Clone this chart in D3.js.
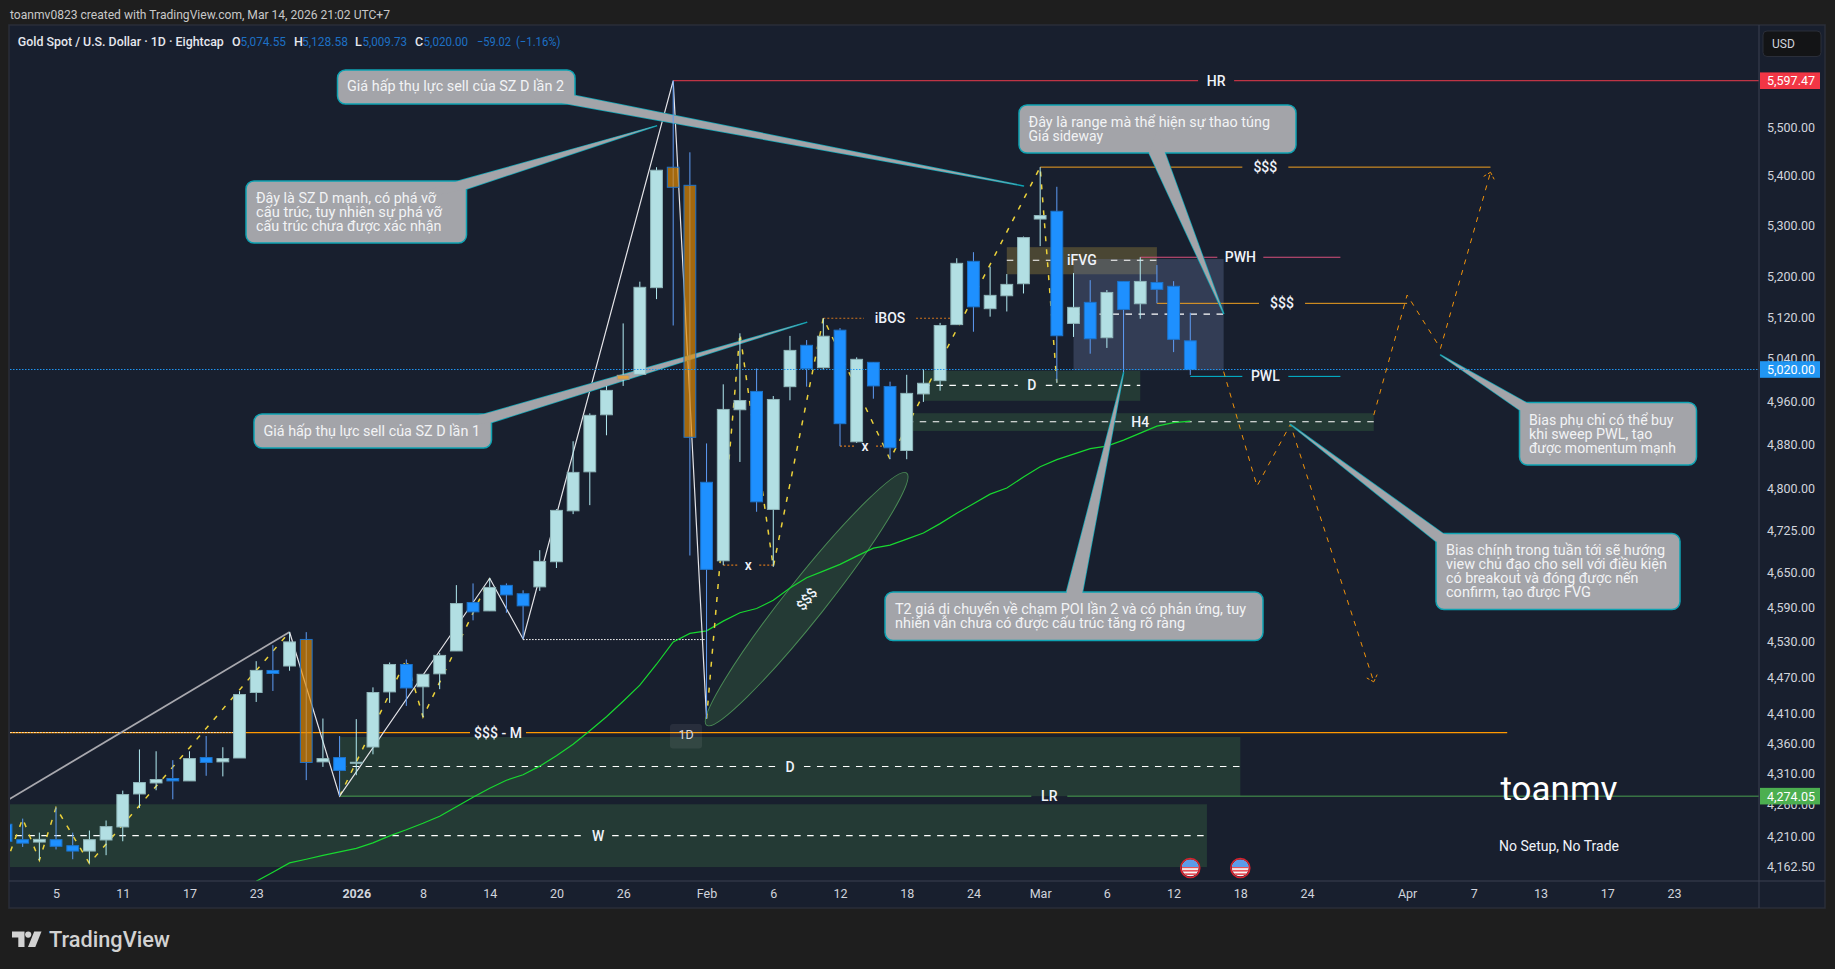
<!DOCTYPE html>
<html lang="vi">
<head>
<meta charset="utf-8">
<title>Gold Spot / U.S. Dollar · 1D</title>
<script src="https://cdnjs.cloudflare.com/ajax/libs/d3/7.8.5/d3.min.js"></script>
<style>
  html, body { margin: 0; padding: 0; background: #1e1e1e; overflow: hidden; }
  svg { display: block; font-family: Roboto, "Noto Sans", sans-serif; }
</style>
</head>
<body>
<svg id="chart" width="1835" height="969"></svg>
<script>
// Daily sessions, the first one sits off-pane so long zones can start left of the view
const sessions = ["Nov 28",
  "Dec 2","Dec 3","Dec 4","Dec 5","Dec 8","Dec 9","Dec 10","Dec 11","Dec 12","Dec 15","Dec 16","Dec 17","Dec 18","Dec 19","Dec 22","Dec 23","Dec 24","Dec 26","Dec 29","Dec 30","Dec 31",
  "Jan 2","Jan 5","Jan 6","Jan 7","Jan 8","Jan 9","Jan 12","Jan 13","Jan 14","Jan 15","Jan 16","Jan 19","Jan 20","Jan 21","Jan 22","Jan 23","Jan 26","Jan 27","Jan 28","Jan 29","Jan 30",
  "Feb 2","Feb 3","Feb 4","Feb 5","Feb 6","Feb 9","Feb 10","Feb 11","Feb 12","Feb 13","Feb 16","Feb 17","Feb 18","Feb 19","Feb 20","Feb 23","Feb 24","Feb 25","Feb 26","Feb 27",
  "Mar 2","Mar 3","Mar 4","Mar 5","Mar 6","Mar 9","Mar 10","Mar 11","Mar 12","Mar 13",
  "Mar 16","Mar 17","Mar 18","Mar 19","Mar 20","Mar 23","Mar 24","Mar 25","Mar 26","Mar 27","Mar 30","Mar 31",
  "Apr 1","Apr 2","Apr 3","Apr 6","Apr 7","Apr 8","Apr 9","Apr 10","Apr 13","Apr 14","Apr 15","Apr 16","Apr 17","Apr 20","Apr 21","Apr 22","Apr 23"];
const candleSessions = sessions.slice(1, 73);

const opens = [4229,4204.5,4200.7,4204.5,4195,4186.5,4204,4224.7,4277.6,4295.4,4302.6,4298.7,4336.7,4329.7,4336,4444.4,4481.5,4489,4534.2,4329.7,4336.7,
  4327.5,4354,4445.4,4491.6,4454,4475.8,4514.6,4597.7,4583.3,4627.6,4613,4625,4669,4759.5,4830,4935,5001.5,5010.8,5177.3,5417.8,5381,
  4811,4670.7,4944.4,4978.7,4762,4987.6,5066,5023.4,5095,4885,5033.6,4988,4869,4974,4999,5105.7,5229,5136.4,5161.5,5185,
  5313,5328.6,5108,5148.7,5080.5,5189.5,5146,5187.5,5180,5074.55];
const highs = [4248,4238,4215.7,4255.7,4215.7,4219,4235,4283,4350,4347,4332.4,4347,4372,4353.6,4446.5,4497.2,4524.4,4547,4546.7,4401,4372,
  4400,4453,4495,4500,4475,4511,4628,4631,4640,4631,4619,4689.4,4762.6,4886,4937.7,4988.8,5108,5189,5417.8,5597.47,5448.4,
  4882,4992,5089,5022,4970,5084,5076,5118,5099,5043,5034,4997,5010,5020.5,5109,5235,5247,5218.6,5203.9,5278,
  5418,5378,5206,5192,5172.7,5190,5237,5221.6,5190,5128.58];
const lows = [4194,4193,4172,4189,4173.6,4167,4180,4202,4255,4283.6,4269,4298.7,4307,4306,4336,4428.6,4447,4481,4300,4321.5,4274.05,
  4308,4342,4427,4422,4403.7,4450,4514.6,4567,4583,4580,4535,4618,4658,4753.6,4769.7,4897,4989,5010.8,5155,5104,4680,
  4401,4663,4848,4757.8,4660,4962,4987.6,5019,4877,4883,4965,4853,4853,4959,4980,5105,5092,5121,5131,5166,
  5259,4995,5082,5050,5061,5015,5117,5146.8,5053,5009.73];
const closes = [4202,4199,4205,4194,4186.5,4204.5,4225.3,4276.6,4296,4301,4298.7,4335,4328.7,4335,4441,4481.6,4476.4,4530,4328.7,4335,4315.7,
  4329,4444.4,4491.6,4452,4475,4507,4596,4581.6,4624,4611,4592,4669.6,4760.3,4829,4934,4980.6,5009,5178,5411.7,5377,4893.3,
  4655.6,4945,4961.7,4775.7,4963.6,5056.3,5021.5,5083.4,4918.5,5039.3,4989,4874,4975,4994,5104,5225,5140,5162.3,5183.7,5276,
  5320,5084.3,5139,5078.5,5168,5135,5189.5,5174,5077.4,5020];

// Candles repainted by the author as supply-zone markers
const supplyCandles = ["Dec 29", "Jan 29", "Jan 30"];
const markedCandles = ["Jan 26"];

// Moving average, first value belongs to Dec 23
const maSessions = sessions.slice(16, 73);
const maValues = [4139,4153.3,4167.8,4173.6,4179.8,4185.3,
  4190.8,4199.4,4210.6,4220.2,4230.6,4241.8,4257,4272.3,4286.8,4299.8,4308.7,4322.7,4339.7,4358.4,4380.8,4404,4429.7,4456.7,4492,4530,4544.5,
  4549,4565.6,4580,4587.4,4601.7,4623,4641,4652.6,4664.4,4678.9,4693,4698.3,4709,4719.8,4736.6,4755,4772.4,4789.6,4800.6,4820.6,
  4839.2,4852.3,4862.3,4872.4,4877,4888,4901,4914,4920.5,4923.3];

const priceTicks = [5500,5400,5300,5200,5120,5040,4960,4880,4800,4725,4650,4590,4530,4470,4410,4360,4310,4260,4210,4162.5];
const tickSessions = ["Dec 5","Dec 11","Dec 17","Dec 23","Jan 2","Jan 8","Jan 14","Jan 20","Jan 26","Feb 2","Feb 6","Feb 12","Feb 18","Feb 24","Mar 2","Mar 6","Mar 12","Mar 18","Mar 24","Apr 1","Apr 7","Apr 13","Apr 17","Apr 23"];
const tickLabels = ["5","11","17","23","2026","8","14","20","26","Feb","6","12","18","24","Mar","6","12","18","24","Apr","7","13","17","23"];

const lastPrice = 5020, rangeHigh = 5597.47, rangeLow = 4274.05;

// Zones: [label, first session, last session, top, bottom, midline]
const demandZones = [
  ["D",  "Dec 31", "Mar 18", 4370.5, rangeLow, 4322],
  ["W",  "Nov 28", "Mar 16", 4261, 4161.3, 4211],
  ["D",  "Feb 19", "Mar 10", 5017.7, 4961, 4990],
  ["H4", "Feb 18", "Mar 30", 4938, 4905, 4922]
];
const fvgZone = ["iFVG", "Feb 26", "Mar 11", 5257, 5203.5, 5231];
const rangeBox = ["Mar 4", "Mar 17", 5233.5, 5018.5, 5126];

// Labelled horizontal levels: [label, first session, last session, price]
const solidLevels = [
  ["HR",  "Jan 29", null,     rangeHigh, "#ea3a4c"],
  ["LR",  "Dec 31", null,     rangeLow,  "#4a9e50"],
  ["$$$", "Mar 2",  "Apr 8",  5418,      "#f0a020"],
  ["$$$", "Mar 11", "Apr 1",  5146.8,    "#f0a020"],
  ["PWH", "Mar 10", "Mar 26", 5237,      "#d8507c"],
  ["PWL", "Mar 13", "Mar 26", 5007,      "#00bcd4"]
];
const monthlyLevel = 4377.8;
const dottedLevels = [
  ["iBOS", "Feb 11", "Feb 23", 5118],
  ["x",    "Feb 12", "Feb 17", 4877],
  ["x",    "Feb 3",  "Feb 6",  4663]
];
const swingFloor = ["Jan 16", "Feb 2", 4534];

// Swing paths: [session, price]
const yellowA = [["Dec 2",4167],["Dec 3",4238],["Dec 4",4172],["Dec 5",4255.7],["Dec 9",4167],["Dec 26",4547]];
const yellowB = [["Dec 31",4274.05],["Jan 7",4500],["Jan 8",4403.7],["Jan 14",4640]];
const yellowC = [["Feb 2",4401],["Feb 4",5089],["Feb 6",4660],["Feb 11",5118],["Feb 17",4853],["Mar 2",5418],["Mar 3",4995]];
const whiteLead = [["Dec 2",4266],["Dec 26",4547]];
const whiteSwing = [["Dec 26",4547],["Dec 31",4274.05],["Jan 14",4640],["Jan 16",4535],["Jan 29",5597.47],["Feb 2",4401]];
const sellScenario = [["Mar 17",5016],["Mar 19",4804],["Mar 23",4917],["Mar 30",4462.3]];
const buyScenario = [["Mar 30",4934.5],["Apr 1",5162.9],["Apr 3",5060],["Apr 8",5407.6]];
const liquidityEllipse = [["Feb 2",4390],["Feb 18",4827.7]];

const calloutTexts = [
  ["Giá hấp thụ lực sell của SZ D lần 2"],
  ["Đây là SZ D mạnh, có phá vỡ","cấu trúc, tuy nhiên sự phá vỡ","cấu trúc chưa được xác nhận"],
  ["Giá hấp thụ lực sell của SZ D lần 1"],
  ["Đây là range mà thể hiện sự thao túng","Giá sideway"],
  ["T2 giá di chuyển về chạm POI lần 2 và có phản ứng, tuy","nhiên vẫn chưa có được cấu trúc tăng rõ ràng"],
  ["Bias phụ chỉ có thể buy","khi sweep PWL, tạo","được momentum mạnh"],
  ["Bias chính trong tuần tới sẽ hướng","view chủ đạo cho sell với điều kiện","có breakout và đóng được nến","confirm, tạo được FVG"]
];
const calloutTips = [["Feb 27",5379.8],["Jan 28",5503],["Feb 10",5110],["Mar 17",5127],["Mar 9",5014],["Apr 3",5047.5],["Mar 23",4917]];
const newsSessions = ["Mar 13", "Mar 18"];

// ---- layout ----
const pane = { left: 10, top: 26, right: 1759, bottom: 881 };
const chartBox = { left: 9, top: 25, right: 1825, bottom: 908 };
const calloutBoxes = [
  { x: 337.5, y: 70,  w: 237.5, h: 34,  tx: 347,  ty: 86,    base: [[568,104],[575,95.5]],       widths: [217] },
  { x: 246,   y: 181, w: 220.5, h: 62,  tx: 256,  ty: 197.5, base: [[458.5,181],[466.5,189]],    widths: [180,186,185.5] },
  { x: 254,   y: 414, w: 237.5, h: 34,  tx: 263.5,ty: 431,   base: [[484.5,414],[491.5,422.5]],  widths: [216.5] },
  { x: 1019,  y: 105, w: 277,   h: 48,  tx: 1028.5,ty: 121.5,base: [[1149,153],[1165,153]],      widths: [241.5,74.5] },
  { x: 885,   y: 592, w: 378,   h: 48.5,tx: 895,  ty: 608.5, base: [[1066.5,592],[1082.5,592]],  widths: [351,290] },
  { x: 1519.5,y: 402.5,w: 177,  h: 62.5,tx: 1529, ty: 419.5, base: [[1526,402.5],[1519.5,410]],  widths: [144.5,123.5,147] },
  { x: 1436,  y: 533.5,w: 244,  h: 76,  tx: 1446, ty: 550,   base: [[1443,533.5],[1436,541.5]],  widths: [219,221,192.5,145] }
];
const bg = "#181f2e", zoneFill = "#243a35", labelWhite = "#f0f3fa", axisText = "#d1d4dc";
const uiFont = 'Roboto, "Noto Sans", sans-serif';

const svg = d3.select("#chart");
const x = d3.scalePoint().domain(sessions).range([-10.68, 1674]);
const y = d3.scaleLog().domain([5500, 4162.5]).range([127.3, 866.3]);
const at = ([s, p]) => [x(s), y(p)];
const pathLine = d3.line();

// Chart frame and pane background
svg.append("rect").attr("width", 1835).attr("height", 969).attr("fill", "#1e1e1e");
svg.append("rect").attr("x", chartBox.left).attr("y", chartBox.top)
  .attr("width", chartBox.right - chartBox.left).attr("height", chartBox.bottom - chartBox.top)
  .attr("fill", bg).attr("stroke", "#2a2e39").attr("stroke-width", 1.5);

svg.append("clipPath").attr("id", "paneClip").append("rect")
  .attr("x", pane.left).attr("y", pane.top)
  .attr("width", pane.right - pane.left).attr("height", pane.bottom - pane.top);
const plot = svg.append("g").attr("clip-path", "url(#paneClip)");
const overlay = svg.append("g");

// Draws a horizontal stroke with a gap left open for its centred label
function levelLine(parent, x1, x2, yy, label, labelX, gap, attrs) {
  const segs = label ? [[x1, labelX - gap], [labelX + gap, x2]] : [[x1, x2]];
  segs.forEach(([a, b]) => {
    const l = parent.append("line").attr("x1", a).attr("x2", b).attr("y1", yy).attr("y2", yy);
    Object.entries(attrs).forEach(([k, v]) => l.attr(k, v));
  });
}
function levelLabel(text, lx, ly, size = 14) {
  overlay.append("text").attr("x", lx).attr("y", ly).attr("text-anchor", "middle")
    .attr("dominant-baseline", "central").attr("fill", labelWhite)
    .attr("font-size", size).attr("font-weight", 500).text(text);
}
const gapFor = t => Math.max(9, t.length * 5 + 9);

// Range box goes under the fair value gap and demand zones
const zoneLayer = plot.append("g");
zoneLayer.append("rect")
  .attr("x", x(fvgZone[1])).attr("width", x(fvgZone[2]) - x(fvgZone[1]))
  .attr("y", y(fvgZone[3])).attr("height", y(fvgZone[4]) - y(fvgZone[3]))
  .attr("fill", "#4a4633");
zoneLayer.append("rect")
  .attr("x", x(rangeBox[0])).attr("width", x(rangeBox[1]) - x(rangeBox[0]))
  .attr("y", y(rangeBox[2])).attr("height", y(rangeBox[3]) - y(rangeBox[2]))
  .attr("fill", "rgb(106,125,167)").attr("fill-opacity", 0.33);
zoneLayer.selectAll("rect.zone").data(demandZones).join("rect").attr("class", "zone")
  .attr("x", d => x(d[1])).attr("width", d => x(d[2]) - x(d[1]))
  .attr("y", d => y(d[3])).attr("height", d => y(d[4]) - y(d[3]))
  .attr("fill", zoneFill);

const dashStyle = { stroke: "#ffffff", "stroke-width": 1.1, "stroke-dasharray": "6.5 6.5" };
demandZones.concat([fvgZone]).forEach(z => {
  const a = x(z[1]), b = x(z[2]), mid = (a + b) / 2;
  levelLine(plot, a, b, y(z[5]), z[0], mid, gapFor(z[0]), dashStyle);
  levelLabel(z[0], mid, y(z[5]));
});
levelLine(plot, x(rangeBox[0]), x(rangeBox[1]), y(rangeBox[4]), null, 0, 0, dashStyle);

// Liquidity ellipse between two anchors
{
  const [a, b] = liquidityEllipse.map(at);
  const cx = (a[0] + b[0]) / 2, cy = (a[1] + b[1]) / 2;
  const angle = Math.atan2(b[1] - a[1], b[0] - a[0]) * 180 / Math.PI;
  const rx = Math.hypot(b[0] - a[0], b[1] - a[1]) / 2;
  plot.append("ellipse").attr("cx", 0).attr("cy", 0).attr("rx", rx).attr("ry", 20)
    .attr("transform", `translate(${cx},${cy}) rotate(${angle})`)
    .attr("fill", zoneFill).attr("stroke", "#4a8a55").attr("stroke-width", 1);
  overlay.append("text").attr("transform", `translate(${cx},${cy}) rotate(${angle})`)
    .attr("text-anchor", "middle").attr("dominant-baseline", "central")
    .attr("fill", labelWhite).attr("font-size", 14).attr("font-weight", 500).text("$$$");
}

// Monthly level with its dotted left run
const monthlyY = y(monthlyLevel);
levelLine(plot, x("Nov 28"), x("Apr 9"), monthlyY, "$$$ - M", 498, 28, { stroke: "#ff9800", "stroke-width": 1.2 });
levelLabel("$$$ - M", 498, monthlyY);
plot.append("line").attr("x1", x("Nov 28")).attr("x2", x("Dec 22")).attr("y1", monthlyY).attr("y2", monthlyY)
  .attr("stroke", "#ffffff").attr("stroke-width", 1).attr("stroke-dasharray", "1.2 1.8");

solidLevels.forEach(([label, s1, s2, price, color]) => {
  const a = x(s1), b = s2 ? x(s2) : pane.right, mid = (a + b) / 2, yy = y(price);
  levelLine(plot, a, b, yy, label, mid, gapFor(label) - 1, { stroke: color, "stroke-width": 1 });
  levelLabel(label, mid, yy);
});
dottedLevels.forEach(([label, s1, s2, price]) => {
  const a = x(s1), b = x(s2), mid = (a + b) / 2, yy = y(price);
  levelLine(plot, a, b, yy, label, mid, gapFor(label) - 3,
    { stroke: "#d0741c", "stroke-width": 1.1, "stroke-dasharray": "2 2" });
  levelLabel(label, mid, yy);
});
plot.append("line").attr("x1", x(swingFloor[0])).attr("x2", x(swingFloor[1]))
  .attr("y1", y(swingFloor[2])).attr("y2", y(swingFloor[2]))
  .attr("stroke", "#ffffff").attr("stroke-width", 1).attr("stroke-dasharray", "1.5 1.5");

// Moving average
plot.append("path").attr("fill", "none").attr("stroke", "#18d830").attr("stroke-width", 1.2)
  .attr("d", pathLine(maSessions.map((s, i) => [x(s), y(maValues[i])])));

// Swing paths behind the candles
[yellowA, yellowB, yellowC].forEach(seg => {
  plot.append("path").attr("fill", "none").attr("stroke", "#ecd23a").attr("stroke-width", 1.5)
    .attr("stroke-dasharray", "5 8").attr("d", pathLine(seg.map(at)));
});
plot.append("path").attr("fill", "none").attr("stroke", "#a8a8ae").attr("stroke-width", 1.8)
  .attr("d", pathLine(whiteLead.map(at)));
plot.append("path").attr("fill", "none").attr("stroke", "#e4e4e8").attr("stroke-width", 1.2)
  .attr("d", pathLine(whiteSwing.map(at)));

// Scenario paths with arrow heads at their ends
[sellScenario, buyScenario].forEach(seg => {
  const pts = seg.map(at);
  plot.append("path").attr("fill", "none").attr("stroke", "#f0920a").attr("stroke-width", 1)
    .attr("stroke-dasharray", "5 6").attr("d", pathLine(pts));
  const tip = pts[pts.length - 1], prev = pts[pts.length - 2];
  const dir = Math.atan2(tip[1] - prev[1], tip[0] - prev[0]);
  [-0.75, 0.75].forEach(off => {
    plot.append("line").attr("x1", tip[0]).attr("y1", tip[1])
      .attr("x2", tip[0] - 8 * Math.cos(dir + off)).attr("y2", tip[1] - 8 * Math.sin(dir + off))
      .attr("stroke", "#f0920a").attr("stroke-width", 1).attr("stroke-dasharray", "3 2");
  });
});

// Callouts: tail, box, then the tail fill again to open the box border at the joint
const calloutFill = "#a3a4a9", calloutStroke = "#0ea3b3";
calloutBoxes.forEach((box, i) => {
  const tip = at(calloutTips[i]);
  const g = plot.append("g");
  const tail = [box.base[0], tip, box.base[1]];
  g.append("polygon").attr("points", tail.join(" ")).attr("fill", calloutFill)
    .attr("stroke", calloutStroke).attr("stroke-width", 1.5).attr("stroke-linejoin", "round");
  g.append("rect").attr("x", box.x).attr("y", box.y).attr("width", box.w).attr("height", box.h)
    .attr("rx", 8).attr("fill", calloutFill).attr("stroke", calloutStroke).attr("stroke-width", 1.5);
  const inner = [box.base[0], tip, box.base[1], [box.x + box.w / 2, box.y + box.h / 2]];
  g.append("polygon").attr("points", inner.join(" ")).attr("fill", calloutFill);
  g.selectAll("text").data(calloutTexts[i]).join("text")
    .attr("x", box.tx).attr("y", (d, k) => box.ty + k * 14).attr("dominant-baseline", "central")
    .attr("fill", "#f2f3f5").attr("font-size", 14)
    .attr("textLength", (d, k) => box.widths[k]).attr("lengthAdjust", "spacingAndGlyphs")
    .text(d => d);
});

// Candles
const candle = plot.append("g").selectAll("g").data(candleSessions).join("g");
const tone = (s, i) => {
  if (supplyCandles.includes(s)) return { fill: "rgba(230,138,0,0.68)", line: "#1f72c9", wick: "#5e9cf5" };
  if (markedCandles.includes(s)) return { fill: "#e0a13f", line: "#9a9a90", wick: "#b2ebf2" };
  return closes[i] >= opens[i]
    ? { fill: "#b2dfe3", line: "#8fb6ba", wick: "#b2ebf2" }
    : { fill: "#1e90ff", line: "#1c74cc", wick: "#5e9cf5" };
};
candle.append("line")
  .attr("x1", d => x(d)).attr("x2", d => x(d))
  .attr("y1", (d, i) => y(highs[i])).attr("y2", (d, i) => y(lows[i]))
  .attr("stroke", (d, i) => tone(d, i).wick).attr("stroke-width", 1);
candle.append("rect")
  .attr("x", d => x(d) - 5.9).attr("width", 11.8)
  .attr("y", (d, i) => y(Math.max(opens[i], closes[i])))
  .attr("height", (d, i) => Math.max(1, Math.abs(y(opens[i]) - y(closes[i]))))
  .attr("fill", (d, i) => tone(d, i).fill)
  .attr("stroke", (d, i) => tone(d, i).line).attr("stroke-width", 1);

// Last price line sits above everything in the pane
plot.append("line").attr("x1", pane.left).attr("x2", pane.right)
  .attr("y1", y(lastPrice)).attr("y2", y(lastPrice))
  .attr("stroke", "#2196f3").attr("stroke-width", 1).attr("stroke-dasharray", "1.5 1.5");

// Resolution tag
overlay.append("rect").attr("x", 670).attr("y", 724).attr("width", 32).attr("height", 24.5).attr("rx", 3)
  .attr("fill", "#ffffff").attr("fill-opacity", 0.07);
overlay.append("text").attr("x", 686).attr("y", 734).attr("text-anchor", "middle").attr("dominant-baseline", "central")
  .attr("fill", "#d5d8de").attr("font-size", 12.5).text("1D");

// Economic event flags on the time axis
newsSessions.forEach((s, idx) => {
  const cx = x(s), cy = 868, r = 8.5;
  const g = overlay.append("g");
  g.append("clipPath").attr("id", "flagClip" + idx).append("circle").attr("cx", cx).attr("cy", cy).attr("r", r);
  const f = g.append("g").attr("clip-path", `url(#flagClip${idx})`);
  f.append("rect").attr("x", cx - r).attr("y", cy - r).attr("width", 2 * r).attr("height", 2 * r).attr("fill", "#f5f5f5");
  d3.range(0, 3).forEach(k => f.append("rect").attr("x", cx - r).attr("y", cy + 0.5 + k * 3.4 - 2)
    .attr("width", 2 * r).attr("height", 1.7).attr("fill", "#e8525a"));
  f.append("rect").attr("x", cx - r).attr("y", cy - r).attr("width", 2 * r).attr("height", r - 1).attr("fill", "#5b9bea");
  g.append("circle").attr("cx", cx).attr("cy", cy).attr("r", r + 1).attr("fill", "none")
    .attr("stroke", "#d8232f").attr("stroke-width", 1.6);
});

// Author watermark, its lower edge is cut off at the low line
svg.append("clipPath").attr("id", "markClip").append("rect").attr("x", 1400).attr("y", 760).attr("width", 320).attr("height", 40);
overlay.append("text").attr("x", 1559).attr("y", 800.5).attr("text-anchor", "middle")
  .attr("clip-path", "url(#markClip)").attr("fill", "#ffffff").attr("font-size", 35).text("toanmv");
overlay.append("text").attr("x", 1559).attr("y", 845.5).attr("text-anchor", "middle").attr("dominant-baseline", "central")
  .attr("fill", "#f0f3fa").attr("font-size", 14).text("No Setup, No Trade");

// Price axis
const priceAxis = svg.append("g").attr("transform", `translate(${pane.right},0)`)
  .call(d3.axisRight(y).tickValues(priceTicks).tickSize(0).tickPadding(0).tickFormat(d3.format(",.2f")));
priceAxis.select(".domain").remove();
priceAxis.selectAll("text").attr("x", 56).attr("text-anchor", "end")
  .attr("fill", axisText).attr("font-size", 12.5).attr("font-family", uiFont);
svg.append("line").attr("x1", pane.right).attr("x2", pane.right).attr("y1", chartBox.top).attr("y2", chartBox.bottom)
  .attr("stroke", "#3a4050").attr("stroke-width", 1);

// Time axis
const timeAxis = svg.append("g").attr("transform", `translate(0,${pane.bottom})`)
  .call(d3.axisBottom(x).tickValues(tickSessions).tickSize(0).tickPadding(8)
    .tickFormat(s => tickLabels[tickSessions.indexOf(s)]));
timeAxis.select(".domain").remove();
timeAxis.selectAll("text").attr("fill", axisText).attr("font-size", 12.5).attr("font-family", uiFont)
  .attr("font-weight", d => d === "Jan 2" ? 700 : 400);
svg.append("line").attr("x1", chartBox.left).attr("x2", chartBox.right).attr("y1", pane.bottom).attr("y2", pane.bottom)
  .attr("stroke", "#3a4050").attr("stroke-width", 1);

// Price tags on the axis
[[rangeHigh, "#f23645"], [rangeLow, "#4caf50"], [lastPrice, "#2196f3"]].forEach(([p, color]) => {
  svg.append("rect").attr("x", pane.right + 1).attr("y", y(p) - 8.3).attr("width", 60).attr("height", 16.6)
    .attr("fill", color);
  svg.append("text").attr("x", 1815).attr("y", y(p)).attr("text-anchor", "end").attr("dominant-baseline", "central")
    .attr("fill", "#ffffff").attr("font-size", 12.5).text(d3.format(",.2f")(p));
});

// Currency selector
svg.append("rect").attr("x", 1763).attr("y", 31).attr("width", 58).attr("height", 25.5).attr("rx", 4)
  .attr("fill", "#131416").attr("stroke", "#2a2e39");
svg.append("text").attr("x", 1772).attr("y", 44).attr("dominant-baseline", "central")
  .attr("fill", axisText).attr("font-size", 12).text("USD");

// Header and symbol legend
svg.append("text").attr("x", 10).attr("y", 14.7).attr("dominant-baseline", "central")
  .attr("fill", "#c8c8c8").attr("font-size", 13)
  .attr("textLength", 380).attr("lengthAdjust", "spacingAndGlyphs")
  .text("toanmv0823 created with TradingView.com, Mar 14, 2026 21:02 UTC+7");
const legendWhite = "#e6e8ee", legendBlue = "#1d70c4";
const legendRuns = [
  ["Gold Spot / U.S. Dollar · 1D · Eightcap", 17.8, legendWhite, 500, 206],
  ["O", 232, legendWhite, 500], ["5,074.55", 240.5, legendBlue, 400, 45.5],
  ["H", 294, legendWhite, 500], ["5,128.58", 302, legendBlue, 400, 46],
  ["L", 355, legendWhite, 500], ["5,009.73", 362.5, legendBlue, 400, 44.5],
  ["C", 415, legendWhite, 500], ["5,020.00", 423.6, legendBlue, 400, 44.5],
  ["−59.02", 477, legendBlue, 400, 34], ["(−1.16%)", 516, legendBlue, 400, 44.5]
];
legendRuns.forEach(d => {
  const t = svg.append("text").attr("x", d[1]).attr("y", 41.5).attr("dominant-baseline", "central")
    .attr("fill", d[2]).attr("font-size", 12.5).attr("font-weight", d[3]).text(d[0]);
  if (d[4]) t.attr("textLength", d[4]).attr("lengthAdjust", "spacingAndGlyphs");
});

// Wordmark in the footer
const logo = svg.append("g").attr("fill", "#d2d2d2");
logo.append("path").attr("d", "M12 931.5h12.5v15.5h-6.2v-9.4h-6.3z");
logo.append("circle").attr("cx", 28.2).attr("cy", 934.6).attr("r", 3.1);
logo.append("path").attr("d", "M34.2 931.5h7.3l-6.2 15.5h-7.3z");
svg.append("text").attr("x", 49).attr("y", 939.5).attr("dominant-baseline", "central")
  .attr("fill", "#d2d2d2").attr("font-size", 21.5).attr("font-weight", 500)
  .attr("textLength", 121).attr("lengthAdjust", "spacingAndGlyphs").text("TradingView");
</script>
</body>
</html>
